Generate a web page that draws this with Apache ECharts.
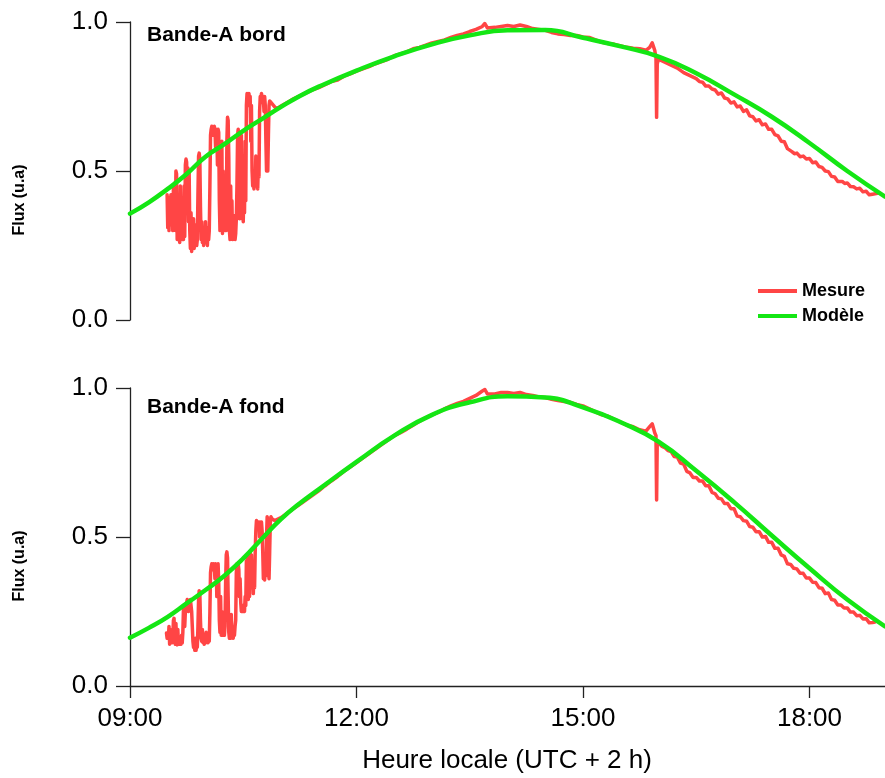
<!DOCTYPE html>
<html>
<head>
<meta charset="utf-8">
<script src="https://cdn.jsdelivr.net/npm/echarts@6/dist/echarts.min.js"></script>
<style>
html,body{margin:0;padding:0;background:#fff;}
#chart{width:885px;height:778px;}
</style>
</head>
<body>
<div id="chart"></div>
<script>
// x values are minutes since midnight (local time)
const xTicks = [540, 720, 900, 1080];
const yTicks = [0, 0.5, 1.0];
const panelTitles = ['Bande-A bord', 'Bande-A fond'];
const seriesNames = ['Mesure', 'Modèle'];
const xAxisTitle = 'Heure locale (UTC + 2 h)';
const yAxisTitle = 'Flux (u.a)';

const modeleBord = [
[540,0.357],[555,0.395],[570,0.44],[585,0.49],[600,0.548],[615,0.59],[630,0.635],[645,0.675],[660,0.715],[675,0.752],[690,0.783],
[720,0.837],[750,0.885],[780,0.925],[810,0.955],[840,0.972],[870,0.973],[900,0.947],[930,0.918],[960,0.884],[990,0.828],
[1020,0.757],[1050,0.682],[1080,0.594],[1110,0.5],[1140,0.414]
];

const modeleFond = [
[540,0.162],[555,0.195],[570,0.232],[585,0.277],[600,0.322],[615,0.37],[630,0.428],[645,0.495],[660,0.56],[675,0.613],[690,0.66],
[720,0.752],[750,0.84],[780,0.91],[810,0.952],[840,0.972],[870,0.968],[900,0.935],[930,0.885],[960,0.82],[990,0.722],
[1020,0.617],[1050,0.505],[1080,0.395],[1110,0.29],[1140,0.2]
];

const mesureBord = [
[569.5,0.42],[570,0.31],[570.5,0.41],[571,0.30],[571.5,0.40],[572,0.32],[572.5,0.42],[573,0.33],[573.5,0.39],[574,0.30],
[574.5,0.44],[575,0.33],[575.5,0.46],[576,0.30],[576.5,0.50],[577,0.49],[577.5,0.27],[578,0.40],[578.5,0.27],[579,0.42],
[579.5,0.26],[580,0.45],[580.5,0.28],[581,0.40],[581.5,0.27],[582,0.30],[582.5,0.27],[583,0.45],[583.5,0.28],[584,0.52],
[584.5,0.54],[585,0.53],[585.5,0.40],[586,0.51],[586.5,0.33],[587,0.50],[587.5,0.30],[588,0.24],[588.5,0.36],[589,0.23],
[589.5,0.30],[590,0.25],[590.5,0.34],[591,0.24],[591.5,0.28],[592,0.26],[592.5,0.32],[593,0.25],[593.5,0.27],[594,0.42],
[594.5,0.55],[595,0.56],[595.5,0.54],[596,0.38],[596.5,0.27],[597,0.33],[597.5,0.26],[598,0.31],[598.5,0.25],[599,0.29],
[599.5,0.26],[600,0.33],[600.5,0.26],[601,0.28],[601.5,0.25],[602,0.31],[602.5,0.27],[603,0.30],[603.5,0.45],[604,0.62],
[604.5,0.64],[605,0.65],[605.5,0.64],[606,0.62],[606.5,0.63],[607,0.65],[607.5,0.64],[608,0.58],[608.5,0.64],[609,0.63],
[609.5,0.52],[610,0.64],[610.5,0.63],[611,0.40],[611.5,0.30],[612,0.55],[612.5,0.31],[613,0.60],[613.5,0.29],[614,0.50],
[614.5,0.31],[615,0.45],[615.5,0.30],[616,0.35],[616.5,0.30],[617,0.60],[617.5,0.68],[618,0.67],[618.5,0.55],[619,0.30],
[619.5,0.27],[620,0.45],[620.5,0.28],[621,0.40],[621.5,0.27],[622,0.30],[622.5,0.28],[623,0.35],[623.5,0.27],[624,0.29],
[624.5,0.34],[625,0.45],[625.5,0.62],[626,0.64],[626.5,0.40],[627,0.34],[627.5,0.55],[628,0.35],[628.5,0.62],[629,0.34],
[629.5,0.50],[630,0.33],[630.5,0.45],[631,0.36],[631.5,0.60],[632,0.40],[632.5,0.72],[633,0.76],[633.5,0.75],[634,0.72],
[634.5,0.76],[635,0.74],[635.5,0.75],[636,0.60],[636.5,0.72],[637,0.50],[637.5,0.45],[638,0.46],[638.5,0.44],[639,0.50],
[639.5,0.45],[640,0.55],[640.5,0.46],[641,0.48],[641.5,0.44],[642,0.52],[642.5,0.48],[643,0.70],[643.5,0.75],[644,0.74],
[644.5,0.76],[645,0.75],[645.5,0.73],[646,0.74],[646.5,0.70],[647,0.75],[647.5,0.72],[648,0.60],[648.5,0.50],[649,0.52],
[649.5,0.50],[650,0.62],[650.5,0.72],[651,0.735],[653,0.725],[655,0.715],[657,0.71],[660,0.718],[665,0.73],[670,0.742],
[675,0.752],[680,0.762],[685,0.772],[690,0.78],[695,0.79],[700,0.80],[705,0.805],[710,0.818],[715,0.826],[720,0.835],
[725,0.843],[730,0.85],[735,0.86],[740,0.867],[745,0.875],[750,0.887],[755,0.893],[760,0.90],[765,0.91],[770,0.915],
[775,0.922],[780,0.93],[785,0.935],[790,0.94],[795,0.948],[800,0.955],[805,0.96],[810,0.968],[815,0.975],[820,0.985],
[822,0.995],[824,0.98],[830,0.982],[835,0.985],[840,0.988],[845,0.985],[850,0.99],[855,0.985],[860,0.978],[865,0.975],
[870,0.972],[875,0.965],[880,0.96],[885,0.958],[890,0.955],[895,0.955],[900,0.95],[905,0.948],[910,0.94],[915,0.932],
[920,0.928],[925,0.925],[930,0.92],[935,0.915],[940,0.912],[945,0.91],[950,0.905],[953,0.915],[955,0.93],[957,0.905],
[958,0.88],[958.5,0.68],[959,0.86],[960,0.875],[965,0.865],[970,0.855],[975,0.845],[980,0.83],[985,0.82],[990,0.81],
[992.5,0.80],[995,0.798],[997.5,0.785],[1000,0.785],[1002.5,0.775],[1005,0.772],[1007.5,0.758],[1010,0.762],[1012.5,0.745],
[1015,0.742],[1017.5,0.728],[1020,0.732],[1022.5,0.715],[1025,0.718],[1027.5,0.70],[1030,0.705],[1032.5,0.685],[1035,0.682],
[1037.5,0.668],[1040,0.672],[1042.5,0.655],[1045,0.658],[1047.5,0.64],[1050,0.64],[1052.5,0.622],[1055,0.618],[1057.5,0.60],
[1060,0.598],[1062.5,0.575],[1066,0.565],[1068,0.558],[1070,0.56],[1072.5,0.548],[1075,0.55],[1077.5,0.54],[1080,0.542],
[1082.5,0.528],[1085,0.53],[1087.5,0.515],[1090,0.512],[1092.5,0.50],[1095,0.498],[1097.5,0.482],[1100,0.48],[1102.5,0.465],
[1106,0.465],[1108,0.458],[1110,0.46],[1112.5,0.448],[1115,0.447],[1117.5,0.44],[1120,0.442],[1122.5,0.43],[1125,0.432],
[1127.5,0.42],[1130,0.422],[1134,0.425]
];

const mesureFond = [
[569,0.178],[569.5,0.16],[570,0.175],[570.5,0.16],[571,0.20],[571.5,0.14],[572,0.19],[572.5,0.15],[573,0.17],[573.5,0.145],
[574,0.16],[574.5,0.22],[575,0.227],[575.5,0.15],[576,0.14],[576.5,0.21],[577,0.15],[577.5,0.138],[578,0.19],[578.5,0.14],
[579,0.16],[579.5,0.14],[580,0.15],[580.5,0.14],[581,0.17],[581.5,0.145],[582,0.18],[582.5,0.26],[583,0.266],[583.5,0.20],
[584,0.25],[584.5,0.27],[585,0.28],[585.5,0.29],[586,0.285],[586.5,0.25],[587,0.28],[587.5,0.26],[588,0.29],[588.5,0.27],
[589,0.25],[589.5,0.20],[590,0.15],[590.5,0.13],[591,0.14],[591.5,0.12],[592,0.16],[592.5,0.12],[593,0.14],[593.5,0.13],
[594,0.20],[594.5,0.29],[595,0.32],[595.5,0.31],[596,0.22],[596.5,0.16],[597,0.15],[597.5,0.19],[598,0.145],[598.5,0.17],
[599,0.14],[599.5,0.16],[600,0.145],[600.5,0.18],[601,0.15],[601.5,0.17],[602,0.145],[602.5,0.16],[603,0.15],[603.5,0.25],
[604,0.38],[604.5,0.40],[605,0.41],[605.5,0.40],[606,0.39],[606.5,0.41],[607,0.40],[607.5,0.36],[608,0.41],[608.5,0.40],
[609,0.30],[609.5,0.39],[610,0.41],[610.5,0.35],[611,0.22],[611.5,0.18],[612,0.30],[612.5,0.17],[613,0.25],[613.5,0.18],
[614,0.17],[614.5,0.22],[615,0.17],[615.5,0.20],[616,0.35],[616.5,0.44],[617,0.45],[617.5,0.43],[618,0.30],[618.5,0.18],
[619,0.16],[619.5,0.20],[620,0.16],[620.5,0.24],[621,0.17],[621.5,0.19],[622,0.16],[622.5,0.18],[623,0.17],[623.5,0.20],
[624,0.22],[624.5,0.38],[625,0.41],[625.5,0.40],[626,0.41],[626.5,0.39],[627,0.30],[627.5,0.36],[628,0.28],[628.5,0.25],
[629,0.245],[629.5,0.27],[630,0.25],[630.5,0.26],[631,0.25],[631.5,0.30],[632,0.27],[632.5,0.42],[633,0.30],[633.5,0.44],
[634,0.29],[634.5,0.42],[635,0.30],[635.5,0.45],[636,0.33],[636.5,0.44],[637,0.35],[637.5,0.40],[638,0.31],[638.5,0.38],
[639,0.33],[639.5,0.45],[640,0.52],[640.5,0.555],[641,0.55],[641.5,0.557],[642,0.54],[642.5,0.55],[643,0.50],[643.5,0.55],
[644,0.53],[644.5,0.55],[645,0.52],[645.5,0.45],[646,0.36],[646.5,0.38],[647,0.356],[647.5,0.40],[648,0.37],[648.5,0.50],
[649,0.568],[649.5,0.55],[650,0.40],[650.5,0.36],[651,0.45],[651.5,0.55],[652,0.568],[653,0.56],[655,0.555],[660,0.565],
[665,0.58],[670,0.595],[675,0.61],[680,0.625],[685,0.64],[690,0.655],[695,0.672],[700,0.688],[705,0.703],[710,0.72],
[715,0.735],[720,0.75],[725,0.765],[730,0.78],[735,0.795],[740,0.81],[745,0.825],[750,0.84],[755,0.85],[760,0.862],
[765,0.875],[770,0.888],[775,0.90],[780,0.91],[785,0.918],[790,0.93],[795,0.94],[800,0.948],[805,0.955],[810,0.965],
[815,0.975],[820,0.99],[822,0.995],[824,0.98],[830,0.98],[835,0.985],[840,0.985],[845,0.982],[850,0.985],[855,0.978],
[860,0.975],[865,0.97],[870,0.968],[875,0.962],[880,0.958],[885,0.955],[890,0.952],[895,0.945],[900,0.94],[905,0.93],
[910,0.92],[915,0.91],[920,0.905],[925,0.895],[930,0.885],[935,0.875],[940,0.87],[945,0.86],[950,0.855],[953,0.87],
[955,0.88],[957,0.85],[958,0.84],[958.5,0.624],[959,0.82],[960,0.815],[962.5,0.805],[965,0.80],[967.5,0.79],[970,0.787],
[972.5,0.77],[975,0.768],[977.5,0.748],[980,0.745],[982.5,0.72],[985,0.715],[987.5,0.70],[990,0.70],[992.5,0.688],[995,0.688],
[997.5,0.672],[1000,0.672],[1002.5,0.65],[1005,0.645],[1007.5,0.63],[1010,0.628],[1012.5,0.612],[1015,0.612],[1017.5,0.595],
[1020,0.595],[1022.5,0.57],[1025,0.568],[1027.5,0.555],[1030,0.553],[1032.5,0.535],[1035,0.533],[1037.5,0.518],[1040,0.518],
[1042.5,0.50],[1045,0.502],[1047.5,0.482],[1050,0.482],[1052.5,0.462],[1055,0.462],[1057.5,0.44],[1060,0.435],[1062.5,0.41],
[1065,0.408],[1067.5,0.395],[1070,0.393],[1072.5,0.378],[1075,0.378],[1077.5,0.362],[1080,0.362],[1082.5,0.348],[1085,0.347],
[1087.5,0.33],[1090,0.328],[1092.5,0.31],[1095,0.312],[1097.5,0.29],[1100,0.288],[1102.5,0.272],[1105,0.272],[1107.5,0.262],
[1110,0.262],[1112.5,0.248],[1115,0.248],[1117.5,0.236],[1120,0.237],[1122.5,0.225],[1125,0.226],[1127.5,0.212],[1130,0.213],
[1132,0.215]
];

const FONT = "'Liberation Sans', Arial, sans-serif";
const RED = '#ff4545';
const GREEN = '#14e614';
const AXIS = '#222';

function fmtTime(m) {
  const h = Math.floor(m / 60), mm = Math.round(m % 60);
  return String(h).padStart(2, '0') + ':' + String(mm).padStart(2, '0');
}

const grids = [
  {left: 130, top: 22, width: 755, height: 298},
  {left: 130, top: 388, width: 755, height: 298}
];

function xAxisFor(i) {
  const visible = i === 1;
  return {
    type: 'value', gridIndex: i, min: 540, max: 1140, interval: 180,
    show: visible,
    axisLine: {show: visible, onZero: false, lineStyle: {color: AXIS, width: 1.3}},
    axisTick: {show: visible, length: 12, inside: false, customValues: xTicks, lineStyle: {color: AXIS, width: 1.3}},
    axisLabel: {show: visible, customValues: xTicks, formatter: fmtTime, fontFamily: FONT, fontSize: 26, color: '#000', margin: 20},
    splitLine: {show: false}
  };
}
function yAxisFor(i) {
  return {
    type: 'value', gridIndex: i, min: 0, max: 1, interval: 0.5,
    axisLine: {show: true, lineStyle: {color: AXIS, width: 1.3}},
    axisTick: {show: true, length: 14, customValues: yTicks, lineStyle: {color: AXIS, width: 1.3}},
    axisLabel: {customValues: yTicks, formatter: v => v.toFixed(1), fontFamily: FONT, fontSize: 26, color: '#000', margin: 22},
    splitLine: {show: false}
  };
}

function lineSeries(name, data, i, color, width, smooth, z) {
  return {
    name: name, type: 'line', xAxisIndex: i, yAxisIndex: i, data: data,
    showSymbol: false, symbol: 'none', smooth: smooth, sampling: null,
    lineStyle: {color: color, width: width, join: 'round', cap: 'round'},
    itemStyle: {color: color}, z: z, animation: false
  };
}

const chart = echarts.init(document.getElementById('chart'), null, {renderer: 'canvas'});
chart.setOption({
  backgroundColor: '#fff',
  animation: false,
  grid: grids,
  xAxis: [xAxisFor(0), xAxisFor(1)],
  yAxis: [yAxisFor(0), yAxisFor(1)],
  legend: {
    data: seriesNames, orient: 'vertical', left: 753, top: 277,
    itemWidth: 39, itemHeight: 4, itemGap: 7, icon: 'rect',
    textStyle: {fontFamily: FONT, fontSize: 18, fontWeight: 'bold', color: '#000', padding: [0, 0, 0, 0]}
  },
  series: [
    lineSeries(seriesNames[0], mesureBord, 0, RED, 3.5, false, 2),
    lineSeries(seriesNames[1], modeleBord, 0, GREEN, 4.5, true, 3),
    lineSeries(seriesNames[0], mesureFond, 1, RED, 3.5, false, 2),
    lineSeries(seriesNames[1], modeleFond, 1, GREEN, 4.5, true, 3)
  ],
  graphic: [
    {type: 'text', left: 147, top: 25, style: {text: panelTitles[0], font: 'bold 21px ' + FONT, fill: '#000'}},
    {type: 'text', left: 147, top: 397, style: {text: panelTitles[1], font: 'bold 21px ' + FONT, fill: '#000'}},
    {type: 'text', x: 20, y: 200, rotation: Math.PI / 2, style: {text: yAxisTitle, font: 'bold 16px ' + FONT, fill: '#000', align: 'center', verticalAlign: 'middle'}},
    {type: 'text', x: 20, y: 566, rotation: Math.PI / 2, style: {text: yAxisTitle, font: 'bold 16px ' + FONT, fill: '#000', align: 'center', verticalAlign: 'middle'}},
    {type: 'text', x: 507, y: 761, style: {text: xAxisTitle, font: '26px ' + FONT, fill: '#000', align: 'center', verticalAlign: 'middle'}}
  ]
});
</script>
</body>
</html>
